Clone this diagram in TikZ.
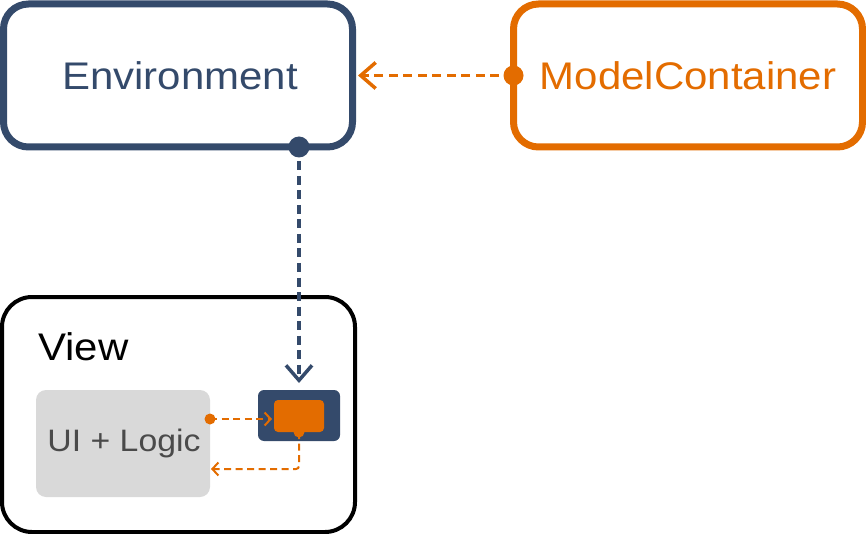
\documentclass[tikz,border=0pt]{standalone}
\usepackage{fontspec}
\setmainfont[FakeStretch=1.09]{Liberation Sans}
\usetikzlibrary{arrows.meta,calc}
\definecolor{navy}{HTML}{344A6B}
\definecolor{orng}{HTML}{E36C00}
\definecolor{uigray}{HTML}{D9D9D9}
\definecolor{uitext}{HTML}{4A4A4A}
\tikzset{
  bigbox/.style={draw, line width=7pt, rounded corners=25pt, inner sep=0pt, outer sep=0pt},
  bigdash/.style={line width=3.5pt, dash pattern=on 9pt off 5.5pt},
  smalldash/.style={line width=2pt, dash pattern=on 7pt off 4.5pt},
  bigtip/.style={-{Straight Barb[length=15pt,width=26pt,line width=3.5pt]}},
  smalltip/.style={-{Straight Barb[length=6pt,width=13pt,line width=2pt]}},
  lbl/.style={font=\fontsize{38.5}{44}\selectfont}
}
\begin{document}
\begin{tikzpicture}[x=1pt,y=-1pt]
\useasboundingbox (0,0) rectangle (866,534);
% big boxes
\node[bigbox, navy, minimum width=349pt, minimum height=143pt] (env) at (178,75.5) {};
\node[lbl, text=navy] (envt) at (180,76) {Environment};
\node[bigbox, orng, minimum width=349pt, minimum height=143pt] (mc) at (688,75.5) {};
\node[lbl, text=orng] (mct) at (688,76) {ModelContainer};
% view box
\node[draw=black, line width=4pt, rounded corners=30pt, inner sep=0pt, outer sep=0pt,
      minimum width=353pt, minimum height=235pt] (view) at (178.5,414.5) {};
\node[lbl, anchor=base west, inner sep=0pt] (viewt) at (38,360) {View};
% UI + logic
\node[fill=uigray, rounded corners=10pt, inner sep=0pt, outer sep=0pt,
      minimum width=174pt, minimum height=107pt] (ui) at (123,443.5) {};
\node[text=uitext, font=\fontsize{31}{36}\selectfont] (uit) at (124,443) {UI + Logic};
% slot
\node[fill=navy, rounded corners=6pt, inner sep=0pt, outer sep=0pt,
      minimum width=82pt, minimum height=51pt] (slot) at (299,415.5) {};
\node[fill=orng, rounded corners=4pt, inner sep=0pt, outer sep=0pt,
      minimum width=50pt, minimum height=32pt] (inner) at (299,416) {};
\fill[orng] (inner.south) circle (5.5pt);
% connectors
\draw[orng, bigdash, bigtip] (mc.west) -- ($(env.east)+(5.5,0)$);
\fill[orng] (mc.west) circle (10pt);
\coordinate (vd) at (env.south -| slot.north);
\draw[navy, bigdash, bigtip] (vd) -- ($(slot.north)+(0,-7)$);
\fill[navy] (vd) circle (10.5pt);
\coordinate (uo) at ($(ui.east)+(0,-24.5)$);
\draw[orng, smalldash, smalltip] (uo) -- ($(inner.west)+(-2,3)$);
\fill[orng] (uo) circle (5.5pt);
\coordinate (ui2) at ($(ui.east)+(1,25.5)$);
\draw[orng, smalldash, smalltip, rounded corners=3pt] (inner.south) -- (inner.south |- ui2) -- (ui2);
\end{tikzpicture}
\end{document}
